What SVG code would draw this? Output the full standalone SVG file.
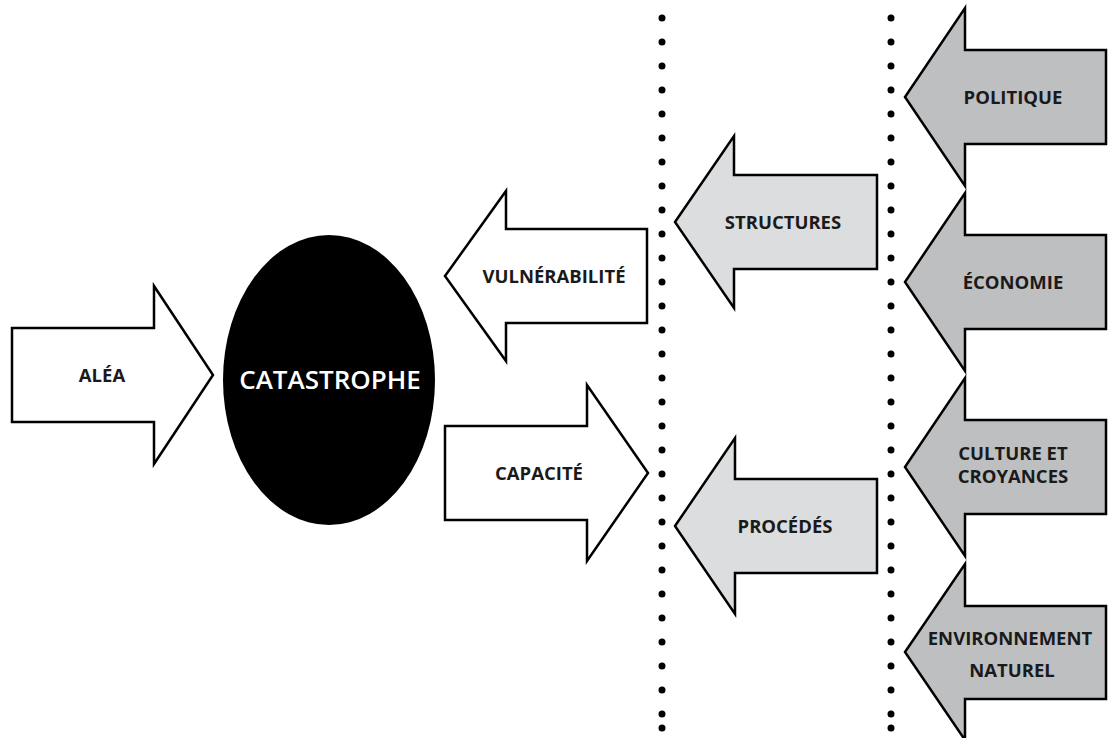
<svg xmlns="http://www.w3.org/2000/svg" width="1108" height="738" viewBox="0 0 1108 738">
  <style>
    .arrow { stroke: #000; stroke-width: 2.5; stroke-linejoin: miter; }
    .white { fill: #ffffff; }
    .light { fill: #dcddde; }
    .dark { fill: #bebfc1; }
    .lbl { font-family: "Open Sans", "Liberation Sans", sans-serif; font-weight: 700; font-size: 18.5px; fill: #1a1a1a; text-anchor: middle; }
    .big { font-family: "Open Sans", "Liberation Sans", sans-serif; font-weight: 600; font-size: 26px; fill: #ffffff; text-anchor: middle; }
    .dots { stroke: #000; stroke-width: 7; stroke-linecap: round; stroke-dasharray: 0 24; fill: none; }
  </style>

  <!-- dotted separators -->
  <g id="separators">
    <line class="dots" x1="662" y1="18" x2="662" y2="715"/>
    <circle cx="662" cy="728" r="3.5"/>
    <line class="dots" x1="891" y1="18" x2="891" y2="715"/>
    <circle cx="891" cy="728" r="3.5"/>
  </g>

  <!-- hazard arrow -->
  <g id="alea">
    <path class="arrow white" d="M12,328 H154 V286 L213,375 L154,464 V422 H12 Z"/>
    <text class="lbl" x="102" y="382">ALÉA</text>
  </g>

  <!-- central event -->
  <g id="catastrophe">
    <ellipse cx="329" cy="380" rx="106" ry="145" fill="#000"/>
    <text class="big" x="330" y="389">CATASTROPHE</text>
  </g>

  <g id="vulnerabilite">
    <path class="arrow white" d="M647,229 H506 V191 L445,276 L506,361 V323 H647 Z"/>
    <text class="lbl" x="554" y="283">VULNÉRABILITÉ</text>
  </g>

  <g id="capacite">
    <path class="arrow white" d="M445,426 H587 V385 L648,473 L587,561 V520 H445 Z"/>
    <text class="lbl" x="539" y="480">CAPACITÉ</text>
  </g>

  <g id="structures">
    <path class="arrow light" d="M877,175 H734 V136 L675,222 L734,308 V269 H877 Z"/>
    <text class="lbl" x="783" y="229">STRUCTURES</text>
  </g>

  <g id="procedes">
    <path class="arrow light" d="M877,479 H735 V438 L675,526 L735,614 V573 H877 Z"/>
    <text class="lbl" x="785" y="533">PROCÉDÉS</text>
  </g>

  <g id="politique">
    <path class="arrow dark" d="M1106,50 H965 V8 L905,97 L965,186 V144 H1106 Z"/>
    <text class="lbl" x="1013" y="104">POLITIQUE</text>
  </g>

  <g id="economie">
    <path class="arrow dark" d="M1106,235 H965 V193 L905,282 L965,371 V329 H1106 Z"/>
    <text class="lbl" x="1013" y="289">ÉCONOMIE</text>
  </g>

  <g id="culture">
    <path class="arrow dark" d="M1106,420 H965 V378 L905,467 L965,556 V514 H1106 Z"/>
    <text class="lbl" x="1013" y="460">CULTURE ET</text>
    <text class="lbl" x="1013" y="483">CROYANCES</text>
  </g>

  <g id="environnement">
    <path class="arrow dark" d="M1106,606 H965 V564 L905,652 L965,740 V699 H1106 Z"/>
    <text class="lbl" x="1010" y="645">ENVIRONNEMENT</text>
    <text class="lbl" x="1012" y="677">NATUREL</text>
  </g>
</svg>
